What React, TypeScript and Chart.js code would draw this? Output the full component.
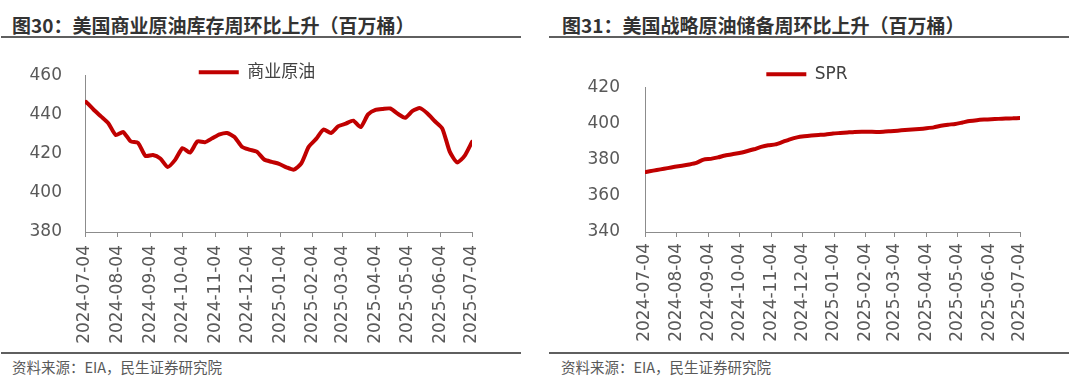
import React, { useEffect, useRef } from 'react';
import { Chart, registerables } from 'chart.js';

Chart.register(...registerables);

// ---------- data ----------
const firstWeek = '2024-07-05';
const axisStart = '2024-07-04';
const axisEnd = '2025-07-04';

const tickLabels = [
  '2024-07-04', '2024-08-04', '2024-09-04', '2024-10-04', '2024-11-04', '2024-12-04',
  '2025-01-04', '2025-02-04', '2025-03-04', '2025-04-04', '2025-05-04', '2025-06-04', '2025-07-04',
];

const leftTitle = '图30：美国商业原油库存周环比上升（百万桶）';
const rightTitle = '图31：美国战略原油储备周环比上升（百万桶）';
const sourceText = '资料来源：EIA，民生证券研究院';

const commercialLabel = '商业原油';
const commercialValues = [
  446.4, 442.5, 439.0, 435.5, 429.5, 431.0, 426.3, 425.5, 418.8, 419.3,
  417.5, 413.2, 416.8, 422.8, 420.5, 426.2, 425.8, 427.8, 429.8, 430.5,
  428.5, 423.5, 422.0, 421.0, 417.0, 415.8, 414.8, 413.0, 411.8, 415.0,
  423.5, 427.5, 432.3, 430.5, 434.0, 435.3, 436.8, 433.5, 440.0, 442.3,
  442.8, 443.0, 440.3, 438.3, 441.8, 443.2, 440.5, 436.5, 432.8, 421.0,
  415.5, 418.8, 426.0,
];
const commercialTicks = [380, 400, 420, 440, 460];

const sprLabel = 'SPR';
const sprValues = [
  373.2, 373.9, 374.6, 375.3, 376.0, 376.6, 377.3, 378.2, 380.0, 380.4,
  381.2, 382.3, 383.0, 383.6, 384.6, 385.7, 387.0, 387.9, 388.4, 389.8,
  391.2, 392.3, 392.9, 393.3, 393.6, 393.9, 394.4, 394.7, 395.0, 395.3,
  395.4, 395.4, 395.3, 395.4, 395.7, 396.0, 396.3, 396.6, 396.9, 397.3,
  397.8, 398.7, 399.3, 399.7, 400.5, 401.3, 401.8, 402.1, 402.3, 402.5,
  402.7, 402.8, 403.0,
];
const sprTicks = [340, 360, 380, 400, 420];

// ---------- helpers ----------
const DAY = 86400000;
const origin = Date.parse(axisStart + 'T00:00:00Z');
const dayOf = (s: string) => Math.round((Date.parse(s + 'T00:00:00Z') - origin) / DAY);
const tickDays = tickLabels.map(dayOf);
const weekDays = (n: number) => Array.from({ length: n }, (_, i) => dayOf(firstWeek) + 7 * i);

const RED = '#C00000';
const AXIS = '#8C8C8C';
const TEXT = '#595959';
const TICK_FONT = { family: "'DejaVu Sans', 'Noto Sans CJK SC', sans-serif", size: 17 };

const legendShift = {
  id: 'legendShift',
  afterLayout(chart: any, _args: any, opts: any) {
    const lg = chart.legend;
    if (!lg) return;
    const dx = opts.dx || 0;
    const dy = opts.dy || 0;
    lg.left += dx; lg.right += dx; lg.top += dy; lg.bottom += dy;
  },
};

type LineProps = {
  label: string; values: number[]; yTicks: number[];
  left: number; top: number; width: number; height: number;
  yAxisWidth: number; padRight: number; xAxisHeight: number;
  yPad: number; xPad: number; dx: number; dy: number;
};

function LineChart(p: LineProps) {
  const ref = useRef<HTMLCanvasElement | null>(null);
  useEffect(() => {
    const days = weekDays(p.values.length);
    const chart = new Chart(ref.current as HTMLCanvasElement, {
      type: 'line',
      data: {
        datasets: [{
          label: p.label,
          data: p.values.map((v, i) => ({ x: days[i], y: v })),
          borderColor: RED,
          backgroundColor: RED,
          borderWidth: 4,
          pointRadius: 0,
          tension: 0.2,
          borderCapStyle: 'round',
          borderJoinStyle: 'round',
          fill: false,
        }],
      },
      options: {
        responsive: false,
        animation: false,
        layout: { padding: { left: 0, right: p.padRight, top: 0, bottom: 0 } },
        plugins: {
          legend: {
            display: true,
            position: 'top',
            labels: {
              boxWidth: 40,
              boxHeight: 4,
              padding: 6,
              color: '#404040',
              font: { family: "'DejaVu Sans', 'Noto Sans CJK SC', sans-serif", size: 17 },
              generateLabels: (c: any) => c.data.datasets.map((ds: any, i: number) => ({
                text: ds.label, fillStyle: ds.borderColor, strokeStyle: ds.borderColor,
                lineWidth: 0, hidden: false, datasetIndex: i, fontColor: '#404040',
              })),
            },
          },
          tooltip: { enabled: false },
          legendShift: { dx: p.dx, dy: p.dy },
        } as any,
        scales: {
          x: {
            type: 'linear',
            min: dayOf(axisStart),
            max: dayOf(axisEnd),
            afterBuildTicks: (s: any) => { s.ticks = tickDays.map((v) => ({ value: v })); },
            afterFit: (s: any) => { s.height = p.xAxisHeight; },
            ticks: {
              autoSkip: false,
              minRotation: 90,
              maxRotation: 90,
              padding: p.xPad,
              color: TEXT,
              font: TICK_FONT,
              callback: (v: any) => {
                const idx = tickDays.indexOf(Number(v));
                return idx >= 0 ? tickLabels[idx] : '';
              },
            },
            grid: { display: true, drawOnChartArea: false, drawTicks: true, tickLength: 5, color: AXIS, lineWidth: 1 },
            border: { display: true, color: AXIS, width: 1 },
          },
          y: {
            min: p.yTicks[0],
            max: p.yTicks[p.yTicks.length - 1],
            afterBuildTicks: (s: any) => { s.ticks = p.yTicks.map((v) => ({ value: v })); },
            afterFit: (s: any) => { s.width = p.yAxisWidth; },
            ticks: { padding: p.yPad, color: TEXT, font: TICK_FONT },
            grid: { display: false, drawTicks: false },
            border: { display: true, color: AXIS, width: 1 },
          },
        },
      } as any,
      plugins: [legendShift],
    });
    return () => chart.destroy();
  }, []);
  return (
    <canvas
      ref={ref}
      width={p.width}
      height={p.height}
      style={{ position: 'absolute', left: p.left, top: p.top, width: p.width, height: p.height }}
    />
  );
}

const titleStyle = (left: number): React.CSSProperties => ({
  position: 'absolute', left, top: 12, height: 26, lineHeight: '26px', margin: 0,
  fontFamily: "'Noto Sans CJK SC', sans-serif", fontWeight: 700, fontSize: 19, color: '#333333',
  whiteSpace: 'nowrap',
});
const sourceStyle = (left: number): React.CSSProperties => ({
  position: 'absolute', left, top: 357, height: 20, lineHeight: '20px',
  fontFamily: "'Noto Sans CJK SC', sans-serif", fontSize: 14.5, color: TEXT, whiteSpace: 'nowrap',
});
const rule = (left: number, top: number, width: number): React.CSSProperties => ({
  position: 'absolute', left, top, width, height: 2, background: '#5f5f5f',
});

export default function App() {
  return (
    <div style={{ position: 'absolute', left: 0, top: 0, width: 1080, height: 385, background: '#ffffff', overflow: 'hidden' }}>
      <div style={titleStyle(12)}>{leftTitle}</div>
      <div style={titleStyle(562)}>{rightTitle}</div>
      <div style={rule(1, 36, 520)} />
      <div style={rule(549, 36, 520)} />

      <LineChart
        label={commercialLabel} values={commercialValues} yTicks={commercialTicks}
        left={0} top={42} width={505} height={306}
        yAxisWidth={85} padRight={33} xAxisHeight={116}
        yPad={23} xPad={8} dx={21} dy={15.5}
      />
      <LineChart
        label={sprLabel} values={sprValues} yTicks={sprTicks}
        left={548} top={52} width={527} height={296}
        yAxisWidth={97} padRight={55} xAxisHeight={116}
        yPad={25} xPad={6} dx={23} dy={5.5}
      />

      <div style={rule(1, 352, 520)} />
      <div style={rule(549, 352, 520)} />
      <div style={sourceStyle(12)}>{sourceText}</div>
      <div style={sourceStyle(561)}>{sourceText}</div>
    </div>
  );
}
